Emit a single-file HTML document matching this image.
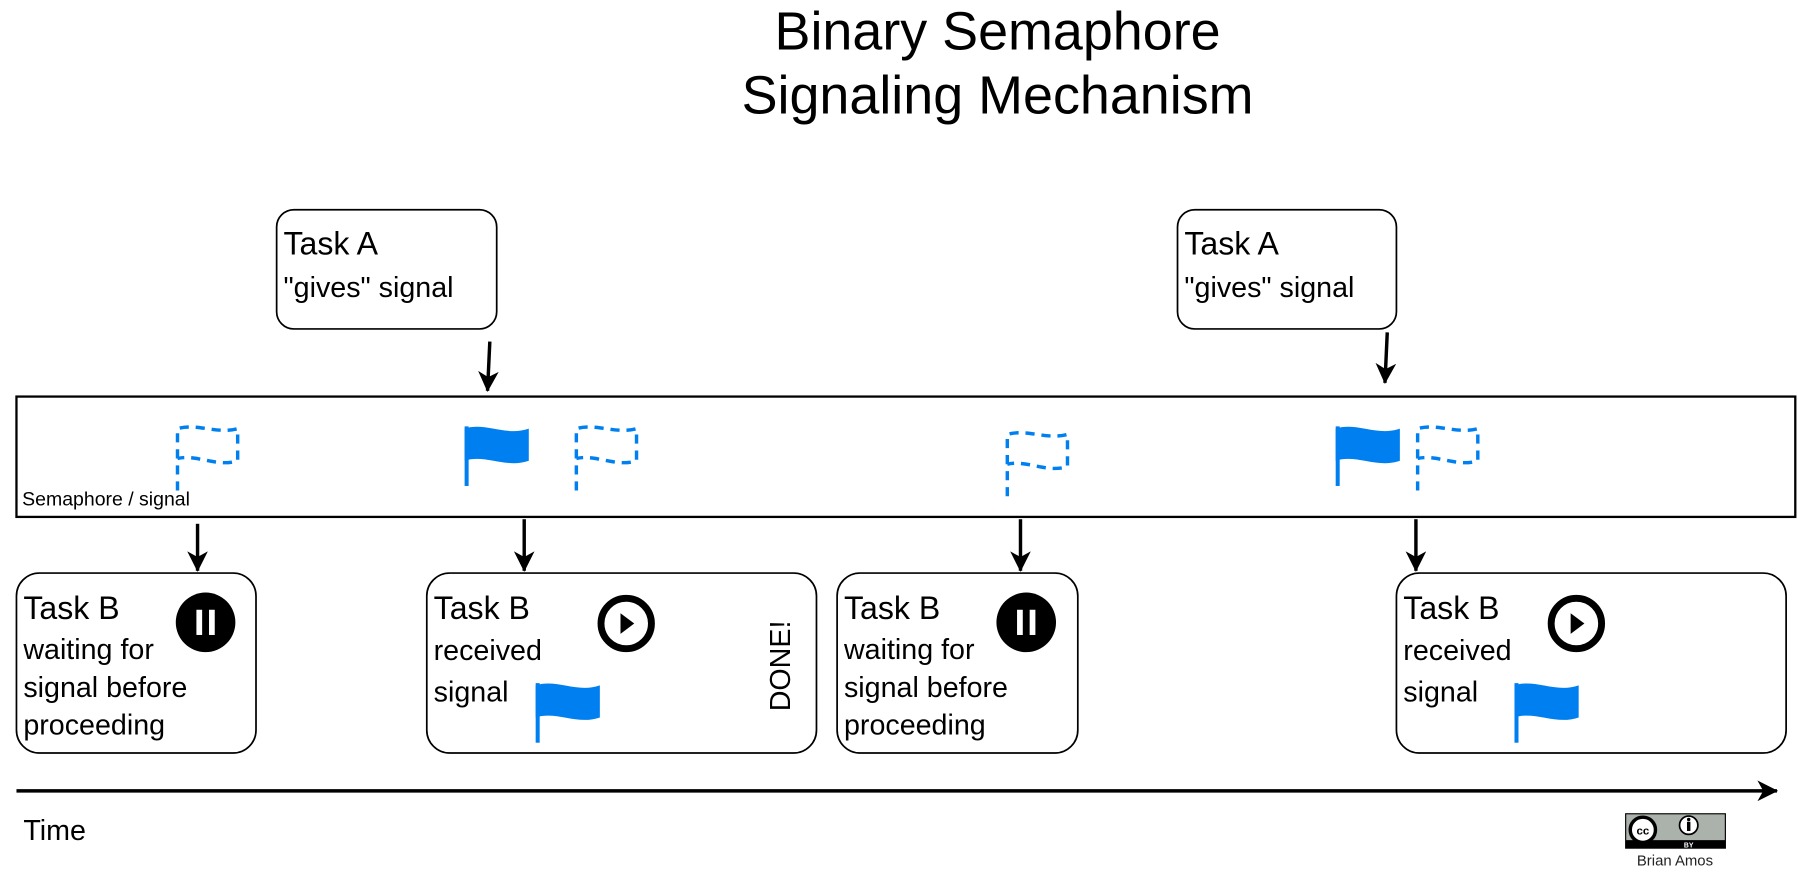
<!DOCTYPE html>
<html><head><meta charset="utf-8"><style>html,body{margin:0;padding:0;background:#fff}svg{display:block}text{font-family:"Liberation Sans",sans-serif}</style></head>
<body>
<svg width="1798" height="894" viewBox="0 0 1568 780" xmlns="http://www.w3.org/2000/svg">
<defs>
<marker id="ah" markerWidth="20" markerHeight="18" refX="17" refY="9" orient="auto" markerUnits="userSpaceOnUse"><path d="M0,0 L18,9 L0,18 L5,9 Z" fill="#000"/></marker>
<g id="sf"><rect x="0" y="0" width="3.5" height="52" fill="#0080f0"/><path d="M0,2 C18,-4 36,9 56,2 L56,30 C36,37 18,24 0,30 Z" fill="#0080f0"/></g>
<g id="df" fill="none" stroke="#0080f0" stroke-width="3" stroke-dasharray="8,6"><path d="M1.5,56 L1.5,2 C18,-3 36,7 54,2 L54,30 C36,36 18,24 1.5,28"/></g>
</defs>
<text x="870" y="43" font-size="47" text-anchor="middle">Binary Semaphore</text>
<text x="870" y="99" font-size="47" text-anchor="middle">Signaling Mechanism</text>

<rect x="241" y="183" width="192" height="104" rx="15" fill="#fff" stroke="#000" stroke-width="1.5"/>
<text x="247" y="222" font-size="28">Task A</text><text x="247" y="259" font-size="25">"gives" signal</text>
<rect x="1027" y="183" width="191" height="104" rx="15" fill="#fff" stroke="#000" stroke-width="1.5"/>
<text x="1033" y="222" font-size="28">Task A</text><text x="1033" y="259" font-size="25">"gives" signal</text>

<g stroke="#000" stroke-width="3" marker-end="url(#ah)">
<line x1="427" y1="298" x2="425" y2="341"/>
<line x1="1210" y1="290" x2="1208" y2="334"/>
<line x1="172" y1="457" x2="172" y2="498"/>
<line x1="457" y1="453" x2="457" y2="498"/>
<line x1="890" y1="453" x2="890" y2="498"/>
<line x1="1235" y1="453" x2="1235" y2="498"/>
<line x1="14" y1="690" x2="1550" y2="690"/>
</g>

<rect x="14" y="346" width="1552" height="105" fill="none" stroke="#000" stroke-width="2"/>
<text x="19" y="441" font-size="17">Semaphore / signal</text>
<use href="#df" x="153" y="372"/>
<use href="#sf" x="405" y="372"/>
<use href="#df" x="501" y="372"/>
<use href="#df" x="877" y="377"/>
<use href="#sf" x="1165" y="372"/>
<use href="#df" x="1235" y="372"/>

<g fill="#fff" stroke="#000" stroke-width="1.5">
<rect x="14" y="500" width="209" height="157" rx="20"/>
<rect x="372" y="500" width="340" height="157" rx="20"/>
<rect x="730" y="500" width="210" height="157" rx="20"/>
<rect x="1218" y="500" width="340" height="157" rx="20"/>
</g>
<g font-size="25">
<text x="20" y="540" font-size="28">Task B</text><text x="20" y="575">waiting for</text><text x="20" y="608">signal before</text><text x="20" y="641">proceeding</text>
<text x="378" y="540" font-size="28">Task B</text><text x="378" y="576">received</text><text x="378" y="612">signal</text>
<text x="736" y="540" font-size="28">Task B</text><text x="736" y="575">waiting for</text><text x="736" y="608">signal before</text><text x="736" y="641">proceeding</text>
<text x="1224" y="540" font-size="28">Task B</text><text x="1224" y="576">received</text><text x="1224" y="612">signal</text>
<text transform="translate(689,581) rotate(-90)" text-anchor="middle">DONE!</text>
<text x="20" y="733">Time</text>
</g>
<use href="#sf" x="467" y="596"/>
<use href="#sf" x="1321" y="596"/>

<circle cx="179" cy="543" r="26" fill="#000"/><rect x="171" y="532" width="5" height="22" fill="#fff"/><rect x="182" y="532" width="5" height="22" fill="#fff"/>
<circle cx="895" cy="543" r="26" fill="#000"/><rect x="887" y="532" width="5" height="22" fill="#fff"/><rect x="898" y="532" width="5" height="22" fill="#fff"/>
<circle cx="546" cy="544" r="22" fill="#fff" stroke="#000" stroke-width="6"/><path d="M541,535 L553,544 L541,553 Z"/>
<circle cx="1375" cy="544" r="22" fill="#fff" stroke="#000" stroke-width="6"/><path d="M1370,535 L1382,544 L1370,553 Z"/>

<rect x="1418" y="710" width="87" height="30" fill="#aab2ab" stroke="#000" stroke-width="1"/>
<rect x="1418" y="733" width="87" height="7" fill="#000"/>
<text x="1473" y="739.5" font-size="6" fill="#fff" text-anchor="middle" font-weight="bold">BY</text>
<circle cx="1433" cy="724" r="11" fill="#fff" stroke="#000" stroke-width="3"/>
<text x="1433" y="728" font-size="10" font-weight="bold" text-anchor="middle">cc</text>
<circle cx="1473" cy="720" r="8" fill="#fff" stroke="#000" stroke-width="1.5"/><rect x="1471.5" y="717" width="3" height="8" fill="#000"/><circle cx="1473" cy="715" r="1.5"/>
<text x="1461" y="755" font-size="13" fill="#222" text-anchor="middle">Brian Amos</text>
</svg>
</body></html>
